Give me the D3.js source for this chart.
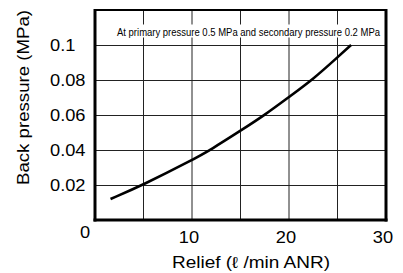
<!DOCTYPE html>
<html><head><meta charset="utf-8">
<script src="https://cdn.jsdelivr.net/npm/d3@7"></script>
<style>body{margin:0;background:#fff}svg{display:block}text{font-family:"Liberation Sans",Arial,sans-serif;fill:#000}</style>
</head><body><svg id="c" width="403" height="273"></svg>
<script>
const reliefX = [1.6, 5, 10, 12, 15, 17.5, 20, 22.5, 25, 26.4];
const backPressureY = [0.012, 0.0202, 0.0342, 0.0404, 0.051, 0.060, 0.0703, 0.0805, 0.0930, 0.100];
const xTicks = [10, 20, 30];
const yTicks = [0.02, 0.04, 0.06, 0.08, 0.1];
const yTickLabels = ["0.02", "0.04", "0.06", "0.08", "0.1"];
const xGrid = [5, 10, 15, 20, 25];
const yGrid = [0.02, 0.04, 0.06, 0.08, 0.1];
const note = "At primary pressure 0.5 MPa and secondary pressure 0.2 MPa";
const xTitle = "Relief (\u2113 /min ANR)";
const yTitle = "Back pressure (MPa)";

const svg = d3.select("#c");
const x = d3.scaleLinear().domain([0, 30]).range([95, 386]);
const y = d3.scaleLinear().domain([0, 0.12]).range([220, 10]);

function stretch(sel, k) {
  sel.each(function(){ const w = this.getComputedTextLength(); d3.select(this).attr("textLength", w * k).attr("lengthAdjust", "spacingAndGlyphs"); });
}

// grid
svg.append("g").selectAll("line").data(xGrid).join("line")
  .attr("x1", d => x(d)).attr("x2", d => x(d)).attr("y1", y(0.12)).attr("y2", y(0))
  .attr("stroke", "#222").attr("stroke-width", 1);
svg.append("g").selectAll("line").data(yGrid).join("line")
  .attr("x1", x(0)).attr("x2", x(30)).attr("y1", d => Math.round(y(d)) + 0.5).attr("y2", d => Math.round(y(d)) + 0.5)
  .attr("stroke", "#222").attr("stroke-width", 1);

// note with white background
svg.append("rect").attr("x", 114).attr("y", 24.5).attr("width", 270).attr("height", 13).attr("fill", "#fff");
svg.append("text").attr("x", 117).attr("y", 35.5).attr("font-size", 11)
  .attr("textLength", 263).attr("lengthAdjust", "spacingAndGlyphs").text(note);

// frame
svg.append("line").attr("x1", x(0)).attr("x2", x(30)).attr("y1", y(0.12)).attr("y2", y(0.12)).attr("stroke", "#000").attr("stroke-width", 2);
svg.append("line").attr("x1", x(30)).attr("x2", x(30)).attr("y1", y(0.12) - 1).attr("y2", y(0) + 1.5).attr("stroke", "#000").attr("stroke-width", 3);
svg.append("line").attr("x1", x(0)).attr("x2", x(0)).attr("y1", y(0.12) - 1).attr("y2", y(0) + 1.5).attr("stroke", "#000").attr("stroke-width", 3);
svg.append("line").attr("x1", x(0) - 1.5).attr("x2", x(30) + 1.5).attr("y1", y(0)).attr("y2", y(0)).attr("stroke", "#000").attr("stroke-width", 3);

// curve
const pts = reliefX.map((v, i) => [v, backPressureY[i]]);
svg.append("path").datum(pts)
  .attr("d", d3.line().x(d => x(d[0])).y(d => y(d[1])).curve(d3.curveBasis))
  .attr("fill", "none").attr("stroke", "#000").attr("stroke-width", 2.6);

// y tick labels
svg.append("g").selectAll("text").data(yTicks).join("text")
  .attr("x", 50).attr("y", d => y(d) + 5.5).attr("font-size", 16)
  .text((d, i) => yTickLabels[i]).call(stretch, 1.14);
// origin 0
svg.append("text").attr("x", 85).attr("y", 237.5).attr("text-anchor", "middle").attr("font-size", 16).text("0").call(stretch, 1.14);
// x tick labels
svg.append("g").selectAll("text").data(xTicks).join("text")
  .attr("x", d => x(d) - 3).attr("y", 243).attr("text-anchor", "middle").attr("font-size", 16)
  .text(d => d).call(stretch, 1.14);

// titles
svg.append("text").attr("x", 251).attr("y", 268).attr("text-anchor", "middle").attr("font-size", 16)
  .text(xTitle).attr("textLength", 158).attr("lengthAdjust", "spacingAndGlyphs");
svg.append("text").attr("transform", "translate(29,97.5) rotate(-90)").attr("text-anchor", "middle").attr("font-size", 16)
  .text(yTitle).attr("textLength", 175).attr("lengthAdjust", "spacingAndGlyphs");
</script></body></html>
